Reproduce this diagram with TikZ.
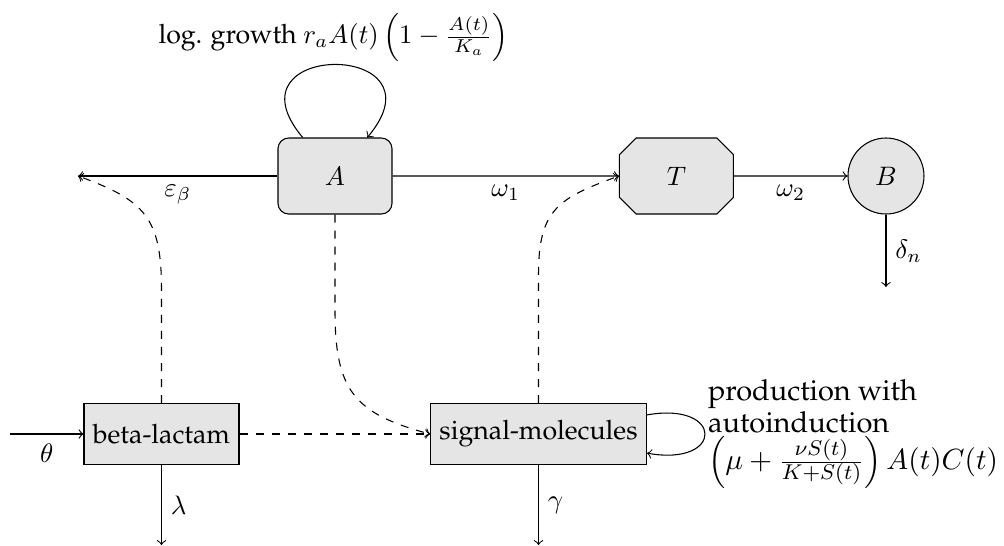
\documentclass[tikz,border=0pt]{standalone}
\usepackage[T1]{fontenc}
\renewcommand{\rmdefault}{ppl}
\usepackage{amsmath,amssymb}
\usepackage{tikz}
\usetikzlibrary{shapes,arrows,positioning,calc}

\begin{document}
\begin{tikzpicture}[
    compart/.style={draw, fill=gray!20, minimum width=1.5cm, minimum height=1cm},
    substance/.style={draw, rectangle, fill=gray!20, minimum height=0.8cm},
    influence/.style={->, dashed}
  ]
    \useasboundingbox (-4.408,2.316) rectangle (8.803,-4.868);
    % compartments
    \node[compart, rectangle, rounded corners] (A) at (0,0) {$A$};
    \node[compart, chamfered rectangle] (T) at (4.493,0) {$T$};
    \node[draw, circle, fill=gray!20, minimum size=1cm] (B) at (7.25,0) {$B$};
    \node[substance] (bl) at (-2.283,-3.395) {beta-lactam};
    \node[substance] (sig) at (2.678,-3.395) {signal-molecules};
    \node[anchor=base] (growth) at (-0.02,1.74) {log. growth $r_aA(t)\left(1-\frac{A(t)}{K_a}\right)$};
    % free ends
    \coordinate (epsEnd) at (-3.38,0);
    \coordinate (thetaStart) at (-4.276,-3.395);
    \coordinate (lamEnd) at (-2.283,-4.855);
    \coordinate (gamEnd) at (2.678,-4.855);
    \coordinate (deltaEnd) at (7.25,-1.46);
    % flows
    \draw[->] (A) to[out=130, in=50, distance=1.67cm] (A);
    \draw[->] (A) -- node[below] {$\varepsilon_\beta$} (epsEnd);
    \draw[->] (A) -- node[below] {$\omega_1$} (T);
    \draw[->] (T) -- node[below] {$\omega_2$} (B);
    \draw[->] (B) -- node[right] {$\delta_n$} (deltaEnd);
    \draw[->] (thetaStart) -- node[below] {$\theta$} (bl);
    \draw[->] (bl) -- node[right] {$\lambda$} (lamEnd);
    \draw[->] (sig) -- node[right] {$\gamma$} (gamEnd);
    \draw[->] (sig) to[out=10, in=-10, distance=1.03cm] node[right, inner xsep=1pt, align=left, font=\fontsize{10.85}{12}\selectfont] {production with\\autoinduction\\$\left(\mu+\frac{\nu S(t)}{K+S(t)}\right)A(t)C(t)$} (sig);
    % influences
    \draw[influence] (bl) -- (sig);
    \draw[influence] (bl.north) -- ++(0,1.49) to[out=90, in=-20, looseness=1.3] (epsEnd);
    \draw[influence] (A.south) -- ++(0,-1.26) to[out=-90, in=165, looseness=1.3] (sig.west);
    \draw[influence] (sig.north) -- ++(0,1.7) to[out=90, in=200, looseness=1.3] (T.west);
\end{tikzpicture}
\end{document}
